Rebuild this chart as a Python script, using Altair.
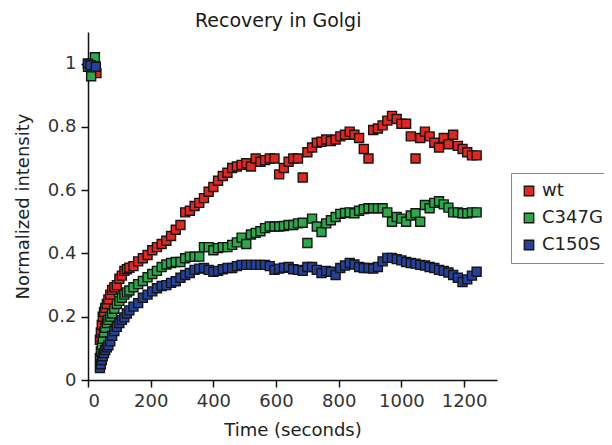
import altair as alt
import pandas as pd

series_names = ["wt", "C347G", "C150S"]
series_colors = ["#e3261f", "#2ba84a", "#26419c"]

# pre-bleach points
pre_t_wt = [0, 12, 27]
pre_v_wt = [1.0, 1.0, 0.97]
pre_t_c347g = [0, 10, 22]
pre_v_c347g = [0.99, 0.96, 1.02]
pre_t_c150s = [0, 8, 25]
pre_v_c150s = [1.0, 0.995, 0.99]

# recovery sampling times (seconds): dense right after bleach, then every 15 s
times = [38, 41, 44, 47, 51, 55, 60, 65, 71, 77, 84, 92, 100, 108, 116, 124, 132] \
    + list(range(145, 1241, 15))

wt = [0.127, 0.15, 0.174, 0.20, 0.215, 0.228, 0.24, 0.255, 0.27, 0.285,
      0.293, 0.30, 0.32, 0.33, 0.345, 0.35, 0.355,
      0.36, 0.375, 0.385,
      0.395, 0.41, 0.42, 0.43, 0.44, 0.455, 0.475, 0.49, 0.53, 0.535,
      0.55, 0.56, 0.575, 0.595, 0.61, 0.63, 0.645, 0.655, 0.67, 0.675,
      0.68, 0.685, 0.675, 0.70, 0.69, 0.695, 0.70, 0.70, 0.65, 0.67,
      0.69, 0.70, 0.70, 0.64, 0.72, 0.735, 0.75, 0.753, 0.76, 0.755,
      0.76, 0.77, 0.775, 0.785, 0.775, 0.765, 0.73, 0.70, 0.79, 0.795,
      0.805, 0.82, 0.835, 0.825, 0.81, 0.81, 0.77, 0.70, 0.765, 0.785,
      0.77, 0.75, 0.735, 0.765, 0.745, 0.775, 0.74, 0.73, 0.72, 0.71,
      0.71]

c347g = [0.07, 0.09, 0.11, 0.13, 0.15, 0.165, 0.18, 0.19, 0.20, 0.21,
         0.225, 0.24, 0.25, 0.26, 0.27, 0.277, 0.283,
         0.293, 0.303, 0.313,
         0.325, 0.335, 0.345, 0.357, 0.365, 0.37, 0.373, 0.373, 0.385, 0.39,
         0.39, 0.39, 0.42, 0.42, 0.41, 0.417, 0.42, 0.42, 0.427, 0.435,
         0.45, 0.43, 0.46, 0.465, 0.47, 0.48, 0.485, 0.485, 0.485, 0.487,
         0.49, 0.49, 0.495, 0.497, 0.433, 0.51, 0.485, 0.468, 0.495, 0.505,
         0.515, 0.525, 0.528, 0.53, 0.527, 0.535, 0.54, 0.543, 0.543, 0.543,
         0.543, 0.53, 0.50, 0.515, 0.51, 0.50, 0.52, 0.527, 0.50, 0.553,
         0.543, 0.56, 0.565, 0.555, 0.545, 0.53, 0.53, 0.527, 0.527, 0.53,
         0.53]

c150s = [0.038, 0.05, 0.063, 0.075, 0.085, 0.095, 0.103, 0.11, 0.122, 0.14,
         0.155, 0.168, 0.18, 0.19, 0.198, 0.21, 0.22,
         0.232, 0.243, 0.26,
         0.27, 0.28, 0.29, 0.297, 0.30, 0.307, 0.312, 0.323, 0.332, 0.338,
         0.348, 0.352, 0.354, 0.348, 0.342, 0.345, 0.35, 0.354, 0.354, 0.36,
         0.364, 0.364, 0.364, 0.364, 0.364, 0.364, 0.36, 0.348, 0.352, 0.355,
         0.357, 0.35, 0.348, 0.345, 0.357, 0.357, 0.348, 0.338, 0.345, 0.342,
         0.332, 0.354, 0.362, 0.37, 0.365, 0.357, 0.354, 0.354, 0.352, 0.357,
         0.375, 0.386, 0.386, 0.382, 0.378, 0.373, 0.37, 0.368, 0.364, 0.362,
         0.357, 0.354, 0.348, 0.345, 0.34, 0.332, 0.323, 0.31, 0.318, 0.33,
         0.342]

x_ticks = [0, 200, 400, 600, 800, 1000, 1200]
y_ticks = [0, 0.2, 0.4, 0.6, 0.8, 1.0]

rows = []
for name, pt, pv, vals in [
    ("wt", pre_t_wt, pre_v_wt, wt),
    ("C347G", pre_t_c347g, pre_v_c347g, c347g),
    ("C150S", pre_t_c150s, pre_v_c150s, c150s),
]:
    for t, v in zip(pt, pv):
        rows.append({"t": t, "v": v, "s": name})
    for t, v in zip(times, vals):
        rows.append({"t": t, "v": v, "s": name})
df = pd.DataFrame(rows)

FONT = "DejaVu Sans"

chart = alt.Chart(df).mark_square(
    size=81, filled=True, stroke="#151515", strokeWidth=1.4, opacity=1
).encode(
    x=alt.X("t:Q", scale=alt.Scale(domain=[0, 1305], nice=False, zero=False),
            axis=alt.Axis(values=x_ticks, format="d", title="Time (seconds)",
                          grid=False, tickSize=7, labelPadding=5, titlePadding=11)),
    y=alt.Y("v:Q", scale=alt.Scale(domain=[0, 1.1], nice=False),
            axis=alt.Axis(values=y_ticks, format=".1~f", title="Normalized intensity",
                          grid=False, tickSize=7, labelPadding=5, titlePadding=15)),
    color=alt.Color("s:N", scale=alt.Scale(domain=series_names, range=series_colors),
                    sort=series_names, title=None,
                    legend=alt.Legend(orient="none", legendX=423, legendY=141,
                                      symbolType="square", symbolSize=90,
                                      symbolStrokeColor="#151515", symbolStrokeWidth=1.3,
                                      labelFontSize=18, labelFont=FONT, labelColor="#222",
                                      labelOffset=4, rowPadding=9, padding=9,
                                      strokeColor="#888", fillColor="white")),
).properties(
    width=409, height=348,
    background="white",
    title=alt.TitleParams("Recovery in Golgi", anchor="start", frame="group", dx=107,
                          fontSize=19, font=FONT, fontWeight="normal",
                          color="#1a1a1a", offset=1),
    autosize=alt.AutoSizeParams(type="none"),
    padding={"left": 80, "top": 24, "right": 107, "bottom": 66},
).configure_view(stroke=None).configure_axis(
    labelFont=FONT, titleFont=FONT, labelFontSize=18, titleFontSize=18,
    labelColor="#333", titleColor="#222", titleFontWeight="normal",
    domainColor="#111", tickColor="#111", domainWidth=1.5, tickWidth=1.5,
)

chart.save("out.html", embed_options={"renderer": "svg", "actions": False})
